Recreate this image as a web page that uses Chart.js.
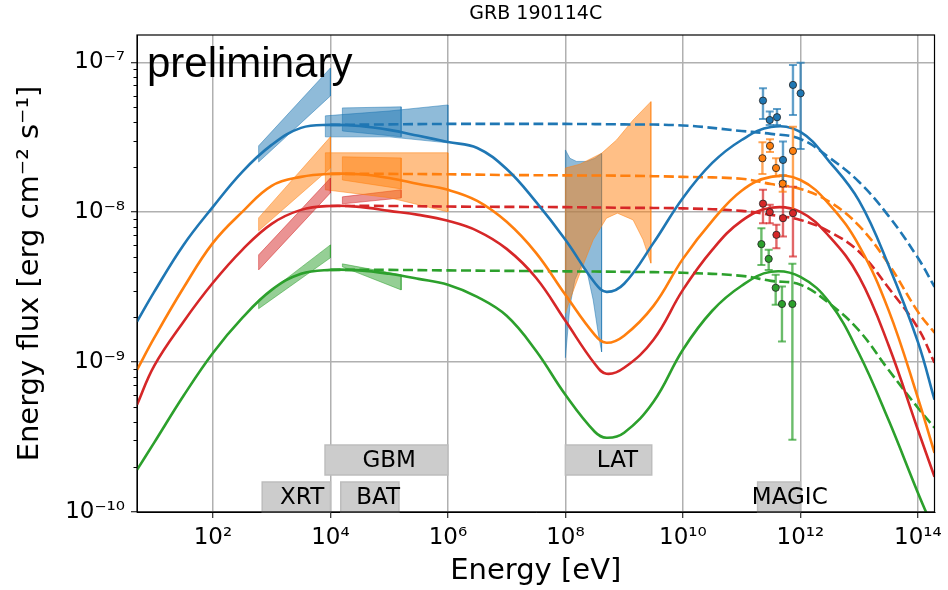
<!DOCTYPE html>
<html>
<head>
<meta charset="utf-8">
<script src="https://cdn.jsdelivr.net/npm/chart.js@4.4.1/dist/chart.umd.min.js"></script>
<style>
  html, body { margin: 0; padding: 0; background: #fff; }
  #wrap { width: 948px; height: 590px; }
</style>
</head>
<body>
<div id="wrap"><canvas id="sed" width="948" height="590"></canvas></div>
<script>
const xTicks = [1e2, 1e4, 1e6, 1e8, 1e10, 1e12, 1e14];
const yTicks = [1e-10, 1e-9, 1e-8, 1e-7];

// model curves (solid) on a common energy grid
const energyGrid = [5.1, 1e1, 3.16e1, 1e2, 3.16e2, 1e3, 3.16e3, 1e4, 3.16e4, 1e5, 3.16e5, 1e6, 3.16e6, 1e7, 3.16e7,
                    1e8, 3.16e8, 5e8, 1e9, 3.16e9, 1e10, 3.16e10, 1e11, 3.16e11, 1e12, 3.16e12, 1e13, 3.16e13, 1e14, 1.92e14];
const blueModel   = [1.86e-9, 2.94e-9, 6.05e-9, 1.085e-8, 1.86e-8, 2.81e-8, 3.65e-8, 3.82e-8, 3.76e-8, 3.54e-8, 3.23e-8, 2.94e-8, 2.68e-8, 1.94e-8, 1.17e-8,
                     6.54e-9, 3.38e-9, 2.94e-9, 3.33e-9, 6.24e-9, 1.245e-8, 2.13e-8, 3.03e-8, 3.70e-8, 3.43e-8, 2.16e-8, 1.19e-8, 4.45e-9, 1.365e-9, 5.61e-10];
const orangeModel = [8.88e-10, 1.45e-9, 3.13e-9, 6.24e-9, 1.005e-8, 1.50e-8, 1.72e-8, 1.80e-8, 1.79e-8, 1.69e-8, 1.54e-8, 1.41e-8, 1.19e-8, 8.62e-9, 5.35e-9,
                     2.81e-9, 1.52e-9, 1.345e-9, 1.50e-9, 2.37e-9, 4.88e-9, 8.75e-9, 1.39e-8, 1.72e-8, 1.64e-8, 1.12e-8, 5.96e-9, 2.23e-9, 5.78e-10, 2.48e-10];
const redModel    = [5.19e-10, 9.45e-10, 1.86e-9, 3.38e-9, 5.61e-9, 8.36e-9, 1.036e-8, 1.10e-8, 1.085e-8, 1.02e-8, 9.59e-9, 8.75e-9, 7.51e-9, 5.69e-9, 3.65e-9,
                     1.885e-9, 9.74e-10, 8.36e-10, 9.16e-10, 1.41e-9, 3.03e-9, 5.61e-9, 8.75e-9, 1.07e-8, 1.005e-8, 6.84e-9, 3.70e-9, 1.30e-9, 3.54e-10, 1.72e-10];
const greenModel  = [1.91e-10, 2.90e-10, 5.96e-10, 1.15e-9, 1.97e-9, 3.03e-9, 3.88e-9, 4.12e-9, 4.09e-9, 3.88e-9, 3.59e-9, 3.28e-9, 2.72e-9, 2.035e-9, 1.19e-9,
                     6.05e-10, 3.43e-10, 3.13e-10, 3.38e-10, 5.44e-10, 1.21e-9, 2.20e-9, 3.23e-9, 4.00e-9, 3.70e-9, 2.485e-9, 1.136e-9, 4.12e-10, 1.345e-10, 7.39e-11];

// intrinsic spectra (dashed)
const dashEnergy      = [1e4, 1e5, 1e6, 1e7, 1e8, 1e9, 1e10, 1e11, 3.16e11, 1e12, 3.16e12, 1e13, 3.16e13, 1e14, 1.92e14];
const blueIntrinsic   = [3.82e-8, 3.85e-8, 3.88e-8, 3.88e-8, 3.88e-8, 3.85e-8, 3.79e-8, 3.48e-8, 3.33e-8, 3.08e-8, 2.30e-8, 1.59e-8, 9.45e-9, 4.96e-9, 3.18e-9];
const orangeIntrinsic = [1.80e-8, 1.80e-8, 1.79e-8, 1.77e-8, 1.76e-8, 1.75e-8, 1.72e-8, 1.67e-8, 1.54e-8, 1.43e-8, 1.17e-8, 8.10e-9, 4.52e-9, 2.17e-9, 1.57e-9];
const redIntrinsic    = [1.10e-8, 1.10e-8, 1.09e-8, 1.085e-8, 1.08e-8, 1.07e-8, 1.06e-8, 1.02e-8, 9.59e-9, 8.88e-9, 7.39e-9, 5.44e-9, 3.13e-9, 1.69e-9, 9.89e-10];
const greenIntrinsic  = [4.12e-9, 4.12e-9, 4.09e-9, 4.06e-9, 4.03e-9, 4.00e-9, 3.94e-9, 3.76e-9, 3.48e-9, 3.28e-9, 2.45e-9, 1.62e-9, 8.88e-10, 4.96e-10, 3.65e-10];

// butterflies: XRT
const xrtE = [600, 1e4];
const xrtBlueHi = [2.77e-8, 9.16e-8],   xrtBlueLo = [2.16e-8, 5.96e-8];
const xrtOrangeHi = [9.16e-9, 3.18e-8], xrtOrangeLo = [7.51e-9, 1.97e-8];
const xrtRedHi = [5.19e-9, 1.69e-8],    xrtRedLo = [4.12e-9, 1.345e-8];
const xrtGreenHi = [2.60e-9, 6.05e-9],  xrtGreenLo = [2.27e-9, 4.96e-9];
// GBM
const gbmE = [8.2e3, 1e5, 1e6];
const gbmBlueHi = [4.39e-8, 4.73e-8, 5.19e-8],   gbmBlueLo = [3.18e-8, 3.18e-8, 2.90e-8];
const gbmOrangeHi = [2.49e-8, 2.49e-8, 2.49e-8], gbmOrangeLo = [1.41e-8, 1.25e-8, 1.005e-8];
// BAT
const batE = [1.6e4, 1.6e5];
const batBlueHi = [4.96e-8, 5.04e-8],   batBlueLo = [3.48e-8, 3.18e-8];
const batOrangeHi = [2.34e-8, 2.30e-8], batOrangeLo = [1.64e-8, 1.43e-8];
const batRedHi = [1.265e-8, 1.41e-8],   batRedLo = [1.136e-8, 1.245e-8];
const batGreenHi = [4.52e-9, 3.82e-9],  batGreenLo = [4.32e-9, 3.03e-9];
// LAT
const latBlueHiE = [1e8, 1.19e8, 1.55e8, 2.3e8, 3.18e8, 4.13e8];
const latBlueHi  = [2.60e-8, 2.29e-8, 2.18e-8, 2.18e-8, 2.29e-8, 2.47e-8];
const latBlueLoE = [1e8, 1.19e8, 1.45e8, 1.89e8, 2.30e8, 2.97e8, 3.61e8, 4.13e8];
const latBlueLo  = [1.07e-9, 2.34e-9, 3.54e-9, 4.45e-9, 4.12e-9, 2.60e-9, 1.57e-9, 1.17e-9];
const latOrangeHiE = [1e8, 1.77e8, 4.13e8, 7.43e8, 1.42e9, 2.85e9];
const latOrangeHi  = [1.97e-8, 2.09e-8, 2.47e-8, 3.03e-8, 4.12e-8, 5.46e-8];
const latOrangeLoE = [1e8, 1.19e8, 1.77e8, 2.97e8, 5.0e8, 7.69e8, 1.42e9, 2.10e9, 2.85e9];
const latOrangeLo  = [2.12e-9, 2.60e-9, 3.92e-9, 6.54e-9, 9.12e-9, 9.85e-9, 8.88e-9, 6.54e-9, 4.57e-9];

// MAGIC points with error bars
const magicBlueE  = [2.31e11, 3.01e11, 4.0e11, 5.06e11, 7.48e11, 1.01e12];
const magicBlueF  = [5.55e-8, 4.12e-8, 4.30e-8, 2.23e-8, 7.06e-8, 6.21e-8];
const magicBlueLo = [4.19e-8, 3.82e-8, 3.82e-8, 1.60e-8, 4.45e-8, 2.64e-8];
const magicBlueHi = [6.71e-8, 4.69e-8, 4.88e-8, 2.96e-8, 9.59e-8, 9.94e-8];
const magicOrangeE  = [2.26e11, 3.04e11, 3.85e11, 5.0e11, 7.48e11];
const magicOrangeF  = [2.29e-8, 2.77e-8, 1.97e-8, 1.55e-8, 2.56e-8];
const magicOrangeLo = [1.80e-8, 2.52e-8, 1.73e-8, 1.37e-8, 1.005e-8];
const magicOrangeHi = [2.93e-8, 3.06e-8, 2.29e-8, 1.77e-8, 3.72e-8];
const magicRedE  = [2.31e11, 3.01e11, 3.91e11, 5.06e11, 7.48e11];
const magicRedF  = [1.14e-8, 1.0e-8, 7.06e-9, 9.12e-9, 9.85e-9];
const magicRedLo = [8.44e-9, 8.44e-9, 5.75e-9, 6.87e-9, 5.06e-9];
const magicRedHi = [1.41e-8, 1.12e-8, 8.23e-9, 1.48e-8, 1.48e-8];
const magicGreenE  = [2.17e11, 2.89e11, 3.80e11, 4.86e11, 7.31e11];
const magicGreenF  = [6.12e-9, 4.88e-9, 3.13e-9, 2.44e-9, 2.44e-9];
const magicGreenLo = [4.45e-9, 4.12e-9, 2.41e-9, 1.37e-9, 3.03e-10];
const magicGreenHi = [7.82e-9, 5.61e-9, 3.82e-9, 3.19e-9, 4.52e-9];

// instrument bands
const instNames = ['XRT', 'BAT', 'GBM', 'LAT', 'MAGIC'];
const instLow   = [6.9e2, 1.5e4, 8.1e3, 1e8, 1.87e11];
const instHigh  = [1e4, 1.47e5, 1e6, 2.95e9, 1e12];
const instRow   = [0, 0, 1, 1, 0];
const instTextE = [3.3e3, 6.5e4, 1e5, 7.7e8, 6.6e11];

const BLUE = '31,119,180', ORANGE = '255,127,14', RED = '214,39,40', GREEN = '44,160,44';

function pts(xs, ys) { return xs.map((x, i) => ({x: x, y: ys[i]})); }
function outline(xHi, yHi, xLo, yLo) {
    let up = pts(xHi, yHi), down = pts(xLo, yLo).reverse();
    return up.concat(down, [up[0]]);
}
function errPts(es, lo, hi) {
    let out = [];
    es.forEach((e, i) => out.push({x: e, y: lo[i]}, {x: e, y: hi[i]}, {x: e, y: null}));
    return out;
}
function bowtie(data, rgb, order) {
    return {data: data, fill: 'shape', backgroundColor: `rgba(${rgb},0.5)`, borderColor: `rgba(${rgb},0.5)`,
            borderWidth: 1, pointRadius: 0, tension: 0, order: order || 50, clip: 0};
}
function curve(xs, ys, rgb, dashed) {
    return {data: pts(xs, ys), borderColor: `rgb(${rgb})`, borderWidth: 2.6, borderDash: dashed ? [10, 4.5] : [],
            pointRadius: 0, fill: false, tension: 0.4, order: dashed ? 40 : 30, clip: 0};
}
function errors(es, lo, hi, rgb) {
    return {data: errPts(es, lo, hi), borderColor: `rgba(${rgb},0.7)`, borderWidth: 2.4, spanGaps: false,
            pointStyle: 'line', pointRadius: 4, pointBorderWidth: 2, pointBorderColor: `rgba(${rgb},0.7)`,
            fill: false, order: 20, clip: 0};
}
function points(es, fs, rgb) {
    return {data: pts(es, fs), showLine: false, pointRadius: 3.6, pointBackgroundColor: `rgb(${rgb})`,
            pointBorderColor: 'rgba(40,40,40,0.85)', pointBorderWidth: 1, order: 10, clip: 0};
}

const datasets = [
    bowtie(outline(xrtE, xrtBlueHi, xrtE, xrtBlueLo), BLUE),
    bowtie(outline(xrtE, xrtOrangeHi, xrtE, xrtOrangeLo), ORANGE),
    bowtie(outline(xrtE, xrtRedHi, xrtE, xrtRedLo), RED),
    bowtie(outline(xrtE, xrtGreenHi, xrtE, xrtGreenLo), GREEN),
    bowtie(outline(gbmE, gbmBlueHi, gbmE, gbmBlueLo), BLUE),
    bowtie(outline(gbmE, gbmOrangeHi, gbmE, gbmOrangeLo), ORANGE),
    bowtie(outline(batE, batBlueHi, batE, batBlueLo), BLUE),
    bowtie(outline(batE, batOrangeHi, batE, batOrangeLo), ORANGE),
    bowtie(outline(batE, batRedHi, batE, batRedLo), RED),
    bowtie(outline(batE, batGreenHi, batE, batGreenLo), GREEN),
    bowtie(outline(latBlueHiE, latBlueHi, latBlueLoE, latBlueLo), BLUE, 52),
    bowtie(outline(latOrangeHiE, latOrangeHi, latOrangeLoE, latOrangeLo), ORANGE, 51),
    curve(dashEnergy, blueIntrinsic, BLUE, true),
    curve(dashEnergy, orangeIntrinsic, ORANGE, true),
    curve(dashEnergy, redIntrinsic, RED, true),
    curve(dashEnergy, greenIntrinsic, GREEN, true),
    curve(energyGrid, blueModel, BLUE, false),
    curve(energyGrid, orangeModel, ORANGE, false),
    curve(energyGrid, redModel, RED, false),
    curve(energyGrid, greenModel, GREEN, false),
    errors(magicBlueE, magicBlueLo, magicBlueHi, BLUE),
    errors(magicOrangeE, magicOrangeLo, magicOrangeHi, ORANGE),
    errors(magicRedE, magicRedLo, magicRedHi, RED),
    errors(magicGreenE, magicGreenLo, magicGreenHi, GREEN),
    points(magicBlueE, magicBlueF, BLUE),
    points(magicOrangeE, magicOrangeF, ORANGE),
    points(magicRedE, magicRedF, RED),
    points(magicGreenE, magicGreenF, GREEN)
];

const SUP = {'-': '⁻', '0': '⁰', '1': '¹', '2': '²', '3': '³', '4': '⁴', '5': '⁵', '6': '⁶', '7': '⁷', '8': '⁸', '9': '⁹'};
function powerLabel(v) {
    return '10' + String(Math.round(Math.log10(v))).split('').map(c => SUP[c]).join('');
}

const instrumentBoxes = {
    id: 'instrumentBoxes',
    beforeDatasetsDraw(chart) {
        const {ctx, chartArea: a, scales: {x}} = chart;
        ctx.save();
        ctx.font = '23px "DejaVu Sans"';
        ctx.textAlign = 'center';
        ctx.textBaseline = 'middle';
        instNames.forEach((name, i) => {
            let x0 = x.getPixelForValue(instLow[i]), x1 = x.getPixelForValue(instHigh[i]);
            let y1 = a.bottom - instRow[i] * 37, y0 = y1 - 30;
            ctx.fillStyle = '#cccccc';
            ctx.fillRect(x0, y0, x1 - x0, y1 - y0);
            ctx.strokeStyle = '#bdbdbd';
            ctx.lineWidth = 1.5;
            ctx.strokeRect(x0, y0, x1 - x0, y1 - y0);
            ctx.fillStyle = '#000';
            ctx.fillText(name, x.getPixelForValue(instTextE[i]), (y0 + y1) / 2 + 1);
        });
        ctx.restore();
    }
};

const prelim = {
    id: 'prelim',
    afterDatasetsDraw(chart) {
        const {ctx, chartArea: a} = chart;
        ctx.save();
        ctx.font = '42px "Liberation Sans"';
        ctx.fillStyle = '#000';
        ctx.textBaseline = 'alphabetic';
        ctx.fillText('preliminary', a.left + 10, a.top + 42);
        ctx.restore();
    }
};

// minor y ticks + full box round the plot
const frame = {
    id: 'frame',
    afterDraw(chart) {
        const {ctx, chartArea: a, scales: {y}} = chart;
        ctx.save();
        ctx.strokeStyle = '#000';
        ctx.lineWidth = 1;
        for (let d = -10; d <= -7; d++) {
            for (let m = 2; m <= 9; m++) {
                let v = m * Math.pow(10, d);
                if (v > y.max) continue;
                let py = Math.round(y.getPixelForValue(v)) + 0.5;
                ctx.beginPath();
                ctx.moveTo(a.left - 3.5, py);
                ctx.lineTo(a.left, py);
                ctx.stroke();
            }
        }
        ctx.lineWidth = 1.2;
        ctx.strokeRect(a.left, a.top, a.right - a.left, a.bottom - a.top);
        ctx.restore();
    }
};

Chart.defaults.font.family = '"DejaVu Sans"';
Chart.defaults.color = '#000';

new Chart(document.getElementById('sed'), {
    type: 'line',
    data: {datasets: datasets},
    options: {
        responsive: false,
        animation: false,
        devicePixelRatio: 1,
        events: [],
        layout: {padding: {left: 0, right: 13, top: 0, bottom: 0}},
        plugins: {
            legend: {display: false},
            tooltip: {enabled: false},
            title: {
                display: true, text: 'GRB 190114C', fullSize: false, color: '#000',
                font: {size: 19, weight: 'normal'}, padding: {top: 3, bottom: 9.2}
            }
        },
        scales: {
            x: {
                type: 'logarithmic', position: 'bottom', min: 5.1, max: 1.92e14,
                afterBuildTicks: s => { s.ticks = xTicks.map(v => ({value: v})); },
                afterFit: s => { s.height = 78; },
                ticks: {callback: v => powerLabel(v), font: {size: 23}, color: '#000', padding: 6, autoSkip: false, maxRotation: 0},
                grid: {color: '#b0b0b0', lineWidth: 1.5, tickColor: '#000', tickLength: 6, tickWidth: 1},
                border: {color: '#000', width: 1},
                title: {display: true, text: 'Energy [eV]', font: {size: 29}, color: '#000', padding: {top: 0, bottom: 1}}
            },
            y: {
                type: 'logarithmic', position: 'left', min: 1e-10, max: 1.52e-7,
                afterBuildTicks: s => { s.ticks = yTicks.map(v => ({value: v})); },
                afterFit: s => { s.width = 137; },
                ticks: {callback: v => powerLabel(v), font: {size: 23}, color: '#000', padding: 6, autoSkip: false},
                grid: {color: '#b0b0b0', lineWidth: 1.5, tickColor: '#000', tickLength: 6, tickWidth: 1},
                border: {color: '#000', width: 1},
                title: {display: true, text: 'Energy flux [erg cm⁻² s⁻¹]', font: {size: 29}, color: '#000', padding: {top: 13, bottom: 0}}
            }
        }
    },
    plugins: [instrumentBoxes, prelim, frame]
});
</script>
</body>
</html>
